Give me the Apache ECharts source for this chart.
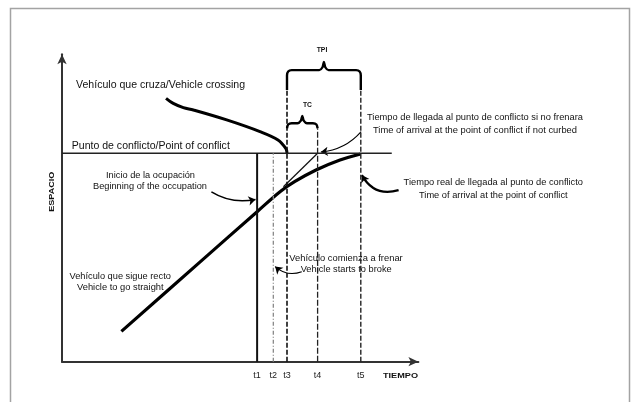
<!DOCTYPE html>
<html>
<head>
<meta charset="utf-8">
<script src="https://cdn.jsdelivr.net/npm/echarts@6/dist/echarts.min.js"></script>
<style>
html, body { margin: 0; padding: 0; background: #fff; }
#main { width: 635px; height: 402px; }
</style>
</head>
<body>
<div id="main"></div>
<script>
// tiempos marcados en el eje (unidades del eje x: 0..99)
var tickNames = ["t1", "t2", "t3", "t4", "t5"];
var tickTimes = [54.2, 58.7, 62.5, 71.0, 83.0];
var tickTops = [69.5, 69.5, 90.6, 77.8, 90.6];
var conflictSpace = 69.5;
var conflictEnd = 91.6;

// vehiculo que sigue recto
var straightTime = [16.5, 38.3, 54.2, 60.56, 64.72, 70.56, 77.22, 82.92];
var straightSpace = [10.1, 33.2, 50.0, 56.67, 60.07, 63.9, 67.23, 69.23];
// vehiculo que cruza
var crossTime = [28.9, 30.9, 33.7, 36.5, 45.75, 55, 60, 62.2, 62.5];
var crossSpace = [87.8, 86.1, 84.7, 83.9, 80.6, 76.7, 73.9, 71.0, 69.5];
// llegada si no frenara
var freeTime = [61.5, 71.0];
var freeSpace = [58.3, 69.5];

// llaves TPI y TC
var braceNames = ["TPI", "TC"];
var braceFrom = [62.5, 62.5];
var braceTo = [83.0, 71.0];
var braceBase = [90.6, 77.8];
var braceTop = [97.2, 79.5];
var braceTip = [99.9, 81.9];

var myChart = echarts.init(document.getElementById("main"));

function bracePts(a, b, base, top, tip) {
  var m = (a + b) / 2, rx = 1.3, ry = Math.min(1.8, top - base);
  var h = tip - top;
  return [
    [a, base], [a, top - ry], [a + rx * 0.25, top - ry * 0.25], [a + rx, top],
    [m - rx, top], [m - rx * 0.3, top + h * 0.35], [m, tip],
    [m + rx * 0.3, top + h * 0.35], [m + rx, top],
    [b - rx, top], [b - rx * 0.25, top - ry * 0.25], [b, top - ry], [b, base]
  ];
}

function pairs(xs, ys) {
  return xs.map(function (x, i) { return [x, ys[i]]; });
}

var series = [
  {
    type: "line", data: pairs(straightTime, straightSpace), smooth: 0.35,
    showSymbol: false, lineStyle: { color: "#000", width: 3.2 }
  },
  {
    type: "line", data: pairs(crossTime, crossSpace), smooth: 0.35,
    showSymbol: false, lineStyle: { color: "#000", width: 3 }
  },
  {
    type: "line", data: pairs(freeTime, freeSpace),
    showSymbol: false, lineStyle: { color: "#111", width: 1.2 }
  },
  {
    type: "line", data: [[0, conflictSpace], [conflictEnd, conflictSpace]],
    showSymbol: false, lineStyle: { color: "#222", width: 1.5 }
  }
];

var vStyles = [
  { color: "#111", width: 2, type: "solid" },
  { color: "#888", width: 1.3, type: [4, 2, 1, 2] },
  { color: "#111", width: 1.6, type: [5, 2] },
  { color: "#222", width: 1.3, type: [6, 2] },
  { color: "#222", width: 1.4, type: [5, 2] }
];
tickTimes.forEach(function (t, i) {
  series.push({
    type: "line", data: [[t, 0], [t, tickTops[i]]], showSymbol: false,
    lineStyle: vStyles[i]
  });
});

braceNames.forEach(function (n, i) {
  series.push({
    type: "line", clip: false, showSymbol: false, smooth: 0.25,
    data: bracePts(braceFrom[i], braceTo[i], braceBase[i], braceTop[i], braceTip[i]),
    lineStyle: { color: "#000", width: 2.4 }
  });
});

// flechas de las anotaciones
series.push({
  type: "lines", coordinateSystem: "cartesian2d", symbol: ["none", "arrow"], symbolSize: 7,
  lineStyle: { color: "#000", width: 1.2, opacity: 1 },
  data: [
    { coords: [[83.1, 76.7], [71.9, 69.9]], lineStyle: { curveness: 0.2, width: 1.1, opacity: 1 } },
    { coords: [[93.5, 57.2], [83.3, 62.2]], lineStyle: { curveness: 0.4, width: 2.2, opacity: 1 } },
    { coords: [[41.5, 56.6], [53.75, 54.1]], lineStyle: { curveness: -0.2, width: 1.5, opacity: 1 } },
    { coords: [[66.6, 30.0], [59.2, 31.7]], lineStyle: { curveness: 0.3, width: 1.1, opacity: 1 } }
  ]
});

// textos: centro x, centro y, ancho medido, tamaño, peso
var measure = document.createElement("canvas").getContext("2d");
function txt(s, cx, cy, w, size, bold, rot) {
  var weight = bold ? "bold" : "normal";
  measure.font = weight + " " + size + "px 'Liberation Sans'";
  var k = w / measure.measureText(s).width;
  return {
    type: "text", x: cx, y: cy, scaleX: k, rotation: rot || 0, z: 10,
    style: {
      text: s, x: 0, y: 0, align: "center", verticalAlign: "middle",
      fontFamily: "Liberation Sans", fontSize: size, fontWeight: weight, fill: "#111"
    }
  };
}

var graphics = [
  {
    type: "rect", z: 0, shape: { x: 10.5, y: 8.5, width: 619, height: 420 },
    style: { fill: null, stroke: "#a3a3a3", lineWidth: 1.5 }
  },
  txt("Vehículo que cruza/Vehicle crossing", 160.5, 85, 169, 10),
  txt("Punto de conflicto/Point of conflict", 150.8, 146.7, 158, 10),
  txt("TPI", 322, 50, 10.6, 8, true),
  txt("TC", 307.5, 105, 9, 8, true),
  txt("Tiempo de llegada al punto de conflicto si no frenara", 475, 117.3, 216, 9),
  txt("Time of arrival at the point of conflict if not curbed", 475, 130.7, 204, 9),
  txt("Tiempo real de llegada al punto de conflicto", 493.3, 182.7, 179.4, 9),
  txt("Time of arrival at the point of conflict", 493.3, 196, 148.6, 9),
  txt("Inicio de la ocupación", 150.5, 176, 89, 9),
  txt("Beginning of the occupation", 150, 187, 114, 9),
  txt("Vehículo comienza a frenar", 346, 258.3, 113.4, 9),
  txt("Vehicle starts to broke", 346.2, 270, 91, 9),
  txt("Vehículo que sigue recto", 120.2, 277, 101.3, 9),
  txt("Vehicle to go straight", 120.3, 288, 86.6, 9),
  txt("ESPACIO", 51.7, 191.7, 40, 8, true, Math.PI / 2),
  txt("TIEMPO", 400.5, 375.7, 35, 8, true)
];

var option = {
  animation: false,
  grid: { left: 62, top: 54.2, width: 356.4, height: 307.5 },
  xAxis: {
    type: "value", min: 0, max: 99,
    axisLine: {
      show: true, symbol: ["none", "arrow"], symbolSize: [7, 10],
      lineStyle: { color: "#333", width: 2 }
    },
    axisTick: { show: false },
    splitLine: { show: false },
    axisLabel: {
      customValues: tickTimes, margin: 9, fontSize: 9, color: "#222",
      fontFamily: "Liberation Sans",
      formatter: function (v) { return tickNames[tickTimes.indexOf(v)] || ""; }
    }
  },
  yAxis: {
    type: "value", min: 0, max: 102.5,
    axisLine: {
      show: true, symbol: ["none", "arrow"], symbolSize: [7, 10],
      lineStyle: { color: "#333", width: 2 }
    },
    axisTick: { show: false },
    splitLine: { show: false },
    axisLabel: { show: false }
  },
  graphic: graphics,
  series: series
};

myChart.setOption(option);
</script>
</body>
</html>
